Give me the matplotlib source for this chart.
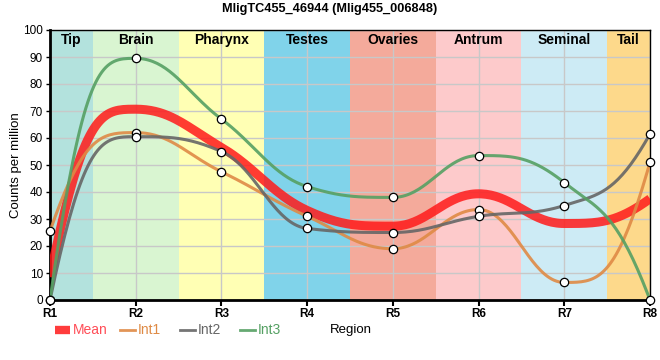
import matplotlib
matplotlib.use("Agg")
import matplotlib.pyplot as plt
from matplotlib.lines import Line2D
import numpy as np

plt.rcParams['font.family'] = ['Liberation Sans', 'DejaVu Sans']

# data
regions = ['R1', 'R2', 'R3', 'R4', 'R5', 'R6', 'R7', 'R8']
int1 = [25.5, 62.0, 47.5, 31.0, 19.0, 33.5, 6.5, 51.0]
int2 = [0.0, 60.5, 55.0, 26.5, 25.0, 31.0, 35.0, 61.5]
int3 = [0.0, 89.5, 67.0, 42.0, 38.0, 53.5, 43.5, 0.0]
mean = list(np.mean([int1, int2, int3], axis=0))

tissues = ['Tip', 'Brain', 'Pharynx', 'Testes', 'Ovaries', 'Antrum', 'Seminal', 'Tail']
tissue_colors = ['#b3e2dd', '#d9f5d1', '#ffffb4', '#80d3ea', '#f4aa9b',
                 '#fdcacb', '#cdebf5', '#fdd98b']


def spline(y, n=40, smoothing=1.5):
    # bezier spline, control points flattened at local extremes
    y = np.asarray(y, float)
    k = len(y)
    xs = np.arange(k, dtype=float)
    d = smoothing + 1
    lc = [None] * k
    rc = [None] * k
    for i in range(1, k - 1):
        lx = (smoothing * xs[i] + xs[i - 1]) / d
        ly = (smoothing * y[i] + y[i - 1]) / d
        rx = (smoothing * xs[i] + xs[i + 1]) / d
        ry = (smoothing * y[i] + y[i + 1]) / d
        corr = (ry - ly) * (rx - xs[i]) / (rx - lx) + y[i] - ry
        ly += corr
        ry += corr
        if ly > y[i - 1] and ly > y[i]:
            ly = max(y[i - 1], y[i]); ry = 2 * y[i] - ly
        elif ly < y[i - 1] and ly < y[i]:
            ly = min(y[i - 1], y[i]); ry = 2 * y[i] - ly
        if ry > y[i + 1] and ry > y[i]:
            ry = max(y[i + 1], y[i]); ly = 2 * y[i] - ry
        elif ry < y[i + 1] and ry < y[i]:
            ry = min(y[i + 1], y[i]); ly = 2 * y[i] - ry
        lc[i] = (lx, ly)
        rc[i] = (rx, ry)
    off = 1 / d
    rc[0] = (xs[0] + off, lc[1][1])
    lc[-1] = (xs[-1] - off, rc[-2][1])
    px, py = [], []
    t = np.linspace(0, 1, n)[:, None]
    for i in range(k - 1):
        p0 = np.array([xs[i], y[i]]); p1 = np.array(rc[i])
        p2 = np.array(lc[i + 1]); p3 = np.array([xs[i + 1], y[i + 1]])
        b = (1 - t)**3 * p0 + 3 * (1 - t)**2 * t * p1 + 3 * (1 - t) * t**2 * p2 + t**3 * p3
        px.append(b[:, 0]); py.append(b[:, 1])
    return np.concatenate(px), np.concatenate(py)


fig = plt.figure(figsize=(6.6, 3.6), dpi=100)
ax = fig.add_axes([50 / 660, 60 / 360, 600 / 660, 270 / 360])

x = np.arange(len(regions))
for i, (name, c) in enumerate(zip(tissues, tissue_colors)):
    lo = max(i - 0.5, 0)
    hi = min(i + 0.5, len(regions) - 1)
    ax.axvspan(lo, hi, color=c, lw=0, zorder=0)
    ax.text((lo + hi) / 2, 96.3, name, ha='center', va='center',
            fontsize=10, fontweight='bold', zorder=5)

ax.grid(True, color='#c8c8c8', lw=1, zorder=1)
ax.set_axisbelow(True)

series = [(int1, '#df8a45', 'Int1'), (int2, '#666666', 'Int2'), (int3, '#55a063', 'Int3')]

mx, my = spline(mean)
ax.plot(mx, my, color='#ff1a1a', lw=6.5, alpha=0.85, solid_capstyle='butt', zorder=3)
for vals, c, lab in series:
    sx, sy = spline(vals)
    ax.plot(sx, sy, color=c, lw=2.2, alpha=0.9, zorder=4)
for vals, c, lab in series:
    ax.plot(x, vals, 'o', ms=6, mfc='white', mec='black', mew=0.9,
            zorder=6, clip_on=False)

ax.set_xlim(0, len(regions) - 1)
ax.set_ylim(0, 100)
ax.set_yticks(np.arange(0, 101, 10))
ax.set_xticks(x)
ax.set_xticklabels(regions, fontweight='bold')
ax.tick_params(axis='both', labelsize=8.5, length=3, width=1, pad=2)
ax.tick_params(axis='x', length=4, width=1.5)
for side in ['left', 'bottom']:
    ax.spines[side].set_linewidth(2)
for side in ['top', 'right']:
    ax.spines[side].set_linewidth(1)

ax.set_ylabel('Counts per million', fontsize=9.5)
ax.yaxis.set_label_coords(-28 / 600, 0.5)
fig.text(351 / 660, 1 - 330 / 360, 'Region', ha='center', va='center', fontsize=9.5)
fig.suptitle('MligTC455_46944 (Mlig455_006848)', x=330 / 660, y=1 - 9 / 360,
             va='center', fontsize=9.2, fontweight='bold')

# legend along the bottom
ly = 1 - 330 / 360
fig.add_artist(Line2D([55 / 660, 70 / 660], [ly, ly], color='#ff1a1a', lw=6,
                      alpha=0.85, solid_capstyle='butt'))
fig.text(73 / 660, ly, 'Mean', color='#ff4d57', fontsize=10, va='center')
lx = [120, 180, 240]
for (vals, c, lab), px in zip(series, lx):
    fig.add_artist(Line2D([px / 660, (px + 15) / 660], [ly, ly], color=c, lw=2, alpha=0.9))
    fig.text((px + 18) / 660, ly, lab, color=c, fontsize=10, va='center')

fig.savefig('out.png', dpi=100)
